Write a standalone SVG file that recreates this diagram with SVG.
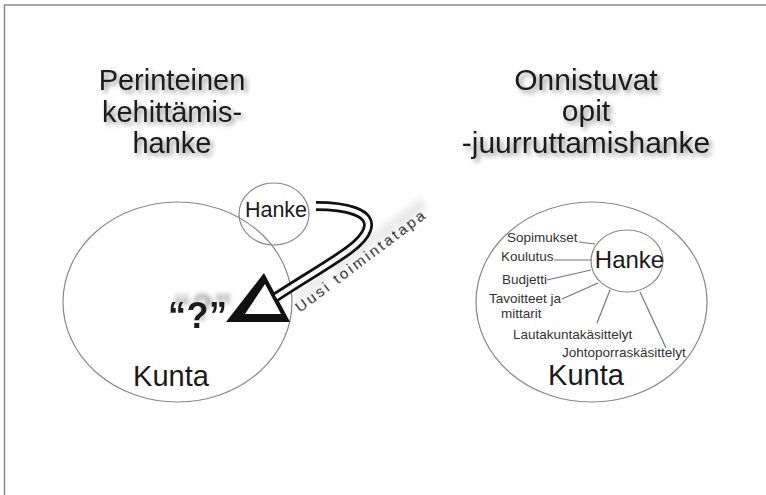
<svg xmlns="http://www.w3.org/2000/svg" width="766" height="495" viewBox="0 0 766 495">
<defs>
<filter id="shadow" x="-20%" y="-40%" width="140%" height="180%">
<feGaussianBlur in="SourceAlpha" stdDeviation="2.5" result="b"/>
<feOffset in="b" dx="3" dy="3" result="o"/>
<feComponentTransfer in="o" result="s"><feFuncA type="linear" slope="0.45"/></feComponentTransfer>
<feMerge><feMergeNode in="s"/><feMergeNode in="SourceGraphic"/></feMerge>
</filter>
<filter id="qshadow" x="-30%" y="-60%" width="160%" height="200%">
<feGaussianBlur in="SourceAlpha" stdDeviation="2.5" result="b"/>
<feOffset in="b" dx="5" dy="-8" result="o"/>
<feComponentTransfer in="o" result="s"><feFuncA type="linear" slope="0.35"/></feComponentTransfer>
<feMerge><feMergeNode in="s"/><feMergeNode in="SourceGraphic"/></feMerge>
</filter>
<filter id="ushadow" x="-20%" y="-200%" width="140%" height="400%">
<feGaussianBlur in="SourceAlpha" stdDeviation="4" result="b"/>
<feOffset in="b" dx="6" dy="-10" result="o"/>
<feComponentTransfer in="o" result="s"><feFuncA type="linear" slope="0.4"/></feComponentTransfer>
<feMerge><feMergeNode in="s"/><feMergeNode in="SourceGraphic"/></feMerge>
</filter>
</defs>
<style>
.t{font-family:"Liberation Sans",Arial,sans-serif;fill:#1a1a1a}
.title{font-size:29px;text-anchor:middle}
.lbl{font-size:13.5px;fill:#333}
.ell{fill:none;stroke:#888;stroke-width:1.2}
.ln{stroke:#777;stroke-width:1.2;fill:none}
</style>
<rect width="766" height="495" fill="#fff"/>
<path d="M4.5,495 V5 H766" fill="none" stroke="#888" stroke-width="1.5"/>

<g id="title-left" filter="url(#shadow)">
<text class="t title" x="172" y="90">Perinteinen</text>
<text class="t title" x="172" y="122">kehittämis-</text>
<text class="t title" x="172" y="153">hanke</text>
</g>
<g id="title-right" filter="url(#shadow)">
<text class="t title" x="586" y="90" style="font-size:30px">Onnistuvat</text>
<text class="t title" x="586" y="121" style="font-size:30px">opit</text>
<text class="t title" x="586" y="153" style="font-size:30px">-juurruttamishanke</text>
</g>

<g id="kunta-left">
<ellipse class="ell" cx="177.5" cy="302" rx="114.5" ry="100"/>
<text class="t" x="171" y="386" text-anchor="middle" font-size="29">Kunta</text>
</g>
<g id="hanke-left">
<ellipse class="ell" cx="274" cy="214" rx="35" ry="31"/>
<text class="t" x="276" y="217" text-anchor="middle" font-size="21.5">Hanke</text>
</g>

<g id="question">
<text class="t" x="168" y="328" font-size="36" font-weight="bold" letter-spacing="0.5" filter="url(#qshadow)">“?”</text>
</g>

<g id="connectors">
<g id="arrow-uusi">
<polygon points="264,273 226,322 290,322" fill="#111"/>
<polygon points="265,284 245,314 281,314" fill="#fff"/>
<path d="M316,206 C345,206 374,212 367,230 C361,247 330,262 276,297" fill="none" stroke="#111" stroke-width="10"/>
<path d="M316,206 C345,206 374,212 367,230 C361,247 330,262 276,297" fill="none" stroke="#fff" stroke-width="4.5"/>
</g>
<g id="label-lines">
<line class="ln" x1="579" y1="242" x2="595" y2="244"/>
<line class="ln" x1="554" y1="260" x2="592" y2="260"/>
<line class="ln" x1="547" y1="280" x2="591" y2="270"/>
<line class="ln" x1="562" y1="299" x2="598" y2="283"/>
<line class="ln" x1="597" y1="323" x2="610" y2="290"/>
<line class="ln" x1="640" y1="292" x2="666" y2="348"/>
</g>
</g>

<g id="uusi-label" transform="translate(300,313) rotate(-37)">
<text class="t" x="0" y="0" font-size="15.5" letter-spacing="2.4" style="fill:#222" filter="url(#ushadow)">Uusi toimintatapa</text>
</g>

<g id="kunta-right">
<ellipse class="ell" cx="591.5" cy="302" rx="115.5" ry="100"/>
<text class="t" x="586" y="385" text-anchor="middle" font-size="29">Kunta</text>
</g>
<g id="hanke-right">
<ellipse class="ell" cx="627" cy="261" rx="36" ry="31"/>
<text class="t" x="629.5" y="268" text-anchor="middle" font-size="24">Hanke</text>
</g>
<g id="sopimukset"><text class="t lbl" x="507" y="242">Sopimukset</text></g>
<g id="koulutus"><text class="t lbl" x="501" y="261">Koulutus</text></g>
<g id="budjetti"><text class="t lbl" x="502" y="284">Budjetti</text></g>
<g id="tavoitteet"><text class="t lbl" x="489" y="303">Tavoitteet ja</text><text class="t lbl" x="501" y="318">mittarit</text></g>
<g id="lautakunta"><text class="t lbl" x="513" y="339">Lautakuntakäsittelyt</text></g>
<g id="johtoporras"><text class="t lbl" x="562" y="357">Johtoporraskäsittelyt</text></g>
</svg>
